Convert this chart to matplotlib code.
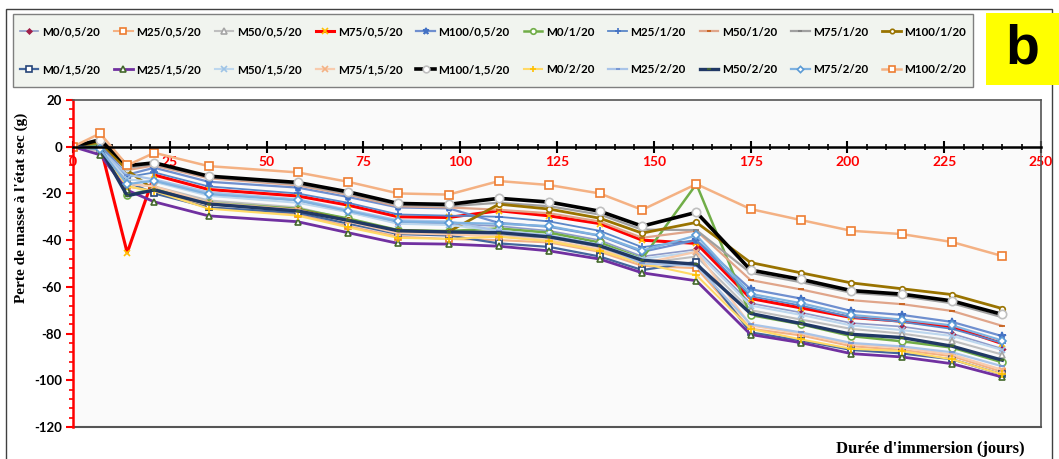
import numpy as np
import matplotlib.pyplot as plt
from matplotlib.patches import Rectangle
from matplotlib.ticker import MultipleLocator

plt.rcParams.update({
    "font.family": ["Lato", "DejaVu Sans"],
    "font.weight": "bold",
    "axes.linewidth": 1.2,
    "axes.unicode_minus": False,
})

# durée d'immersion (jours)
jours = [0, 7, 14, 21, 35, 58, 71, 84, 97, 110, 123, 136, 147, 161, 175, 188, 201, 214, 227, 240]

# perte de masse (g) par série
m0_05 = [0, -1, -14, -15, -20, -23, -28, -32.5, -33, -34, -36, -40, -47, -44, -67, -71, -75.5, -77, -80, -86.5]
m25_05 = [0, -1.5, -17, -19, -26, -29, -34, -38.5, -39.5, -40, -41, -45, -51, -52, -77.9, -80.8, -85.4, -87, -89.7, -96.4]
m50_05 = [0, -2, -16, -17, -23, -26, -31, -36, -37, -38, -39, -43, -50, -47, -70, -74, -78, -80, -83, -89]
m75_05 = [0, 0.5, -45.4, -12.1, -18.3, -21.1, -25, -30, -30.3, -27.4, -29.6, -32.9, -40, -41.4, -65, -69, -73.1, -74.7, -77.1, -84.3]
m100_05 = [0, 1, -12, -9, -15, -17.5, -21.5, -26, -26.4, -32.6, -34.3, -38.1, -45, -40, -61, -65, -70.3, -72, -75, -81.1]
m0_1 = [0, 1, -20.7, -18, -24, -26.6, -30.7, -35.7, -36.1, -35, -36.8, -41, -47.9, -16, -72.1, -76, -81.1, -83.3, -86, -92.3]
m25_1 = [0, 0, -13, -11, -17, -20, -24, -29, -29.5, -30, -32, -36, -43, -40, -64, -68, -73, -75, -78, -84]
m50_1 = [0, 2, -10, -8, -13.5, -16.5, -20.5, -25.5, -26, -27, -28.5, -32, -39, -36, -57.1, -61.1, -65.7, -67.4, -70.3, -76.7]
m75_1 = [0, 2, -9, -7.5, -13, -16, -20, -25, -25.5, -24, -25.5, -29, -35.5, -35.7, -54, -58, -62.5, -64, -67, -73]
m100_1 = [0, 2, -10, -18.6, -24.5, -27, -31.5, -36, -36.4, -24.6, -26.7, -30.6, -37, -32.4, -49.6, -54, -58.3, -60.8, -63.3, -69.3]
m0_15 = [0, -1, -15, -20, -26, -28.3, -32.9, -37.4, -38, -41.4, -42.9, -47, -52.8, -49.3, -79.5, -83, -87, -88.5, -91, -97.5]
m25_15 = [0, -3.5, -18.6, -23.6, -29.6, -32.1, -36.8, -41.4, -41.7, -42.6, -44.6, -48.1, -54, -57.4, -80.4, -83.9, -88.6, -90, -92.9, -98.6]
m50_15 = [0, -1, -14, -15, -21, -24, -28, -33, -33.5, -36, -38, -42, -48, -45, -68, -72, -76.5, -78.5, -81, -87]
m75_15 = [0, -1, -16, -17, -24, -27, -32, -37, -37.5, -38.5, -40, -44, -50, -45, -76.5, -80, -84.5, -86, -89, -95.5]
m100_15 = [0, 3, -8.1, -6.9, -12.6, -15.3, -19.3, -24.3, -24.7, -22.1, -23.7, -27.6, -34, -28.1, -52.8, -56.8, -61.6, -63.1, -66, -71.8]
m0_2 = [0, -1, -17, -19, -26.5, -29.5, -34.5, -39, -39.5, -38.5, -40.5, -44.5, -50, -55, -78, -82.5, -86.5, -87.5, -91, -97.5]
m25_2 = [0, -1, -12, -14, -19.5, -22.5, -27, -31.5, -32, -36, -38, -42, -50, -51, -76, -79.5, -84, -85.5, -88, -94]
m50_2 = [0, -0.6, -21, -18.5, -24.5, -27.5, -31.5, -36, -36.5, -36.8, -38.6, -42.4, -48.6, -50.3, -71.4, -75.7, -80.3, -81.7, -85.4, -91.4]
m75_2 = [0, -1, -16, -14.6, -20.3, -22.9, -27.5, -32, -32.5, -33, -34, -38, -44.5, -38, -63, -67, -72, -74, -76.5, -83]
m100_2 = [0, 5.7, -8, -2.6, -8.3, -11, -15, -20, -20.5, -14.7, -16.4, -20, -27, -16, -26.7, -31.4, -36, -37.4, -40.8, -46.8]

noms = ["M0/0,5/20", "M25/0,5/20", "M50/0,5/20", "M75/0,5/20", "M100/0,5/20",
        "M0/1/20", "M25/1/20", "M50/1/20", "M75/1/20", "M100/1/20",
        "M0/1,5/20", "M25/1,5/20", "M50/1,5/20", "M75/1,5/20", "M100/1,5/20",
        "M0/2/20", "M25/2/20", "M50/2/20", "M75/2/20", "M100/2/20"]
series = [m0_05, m25_05, m50_05, m75_05, m100_05, m0_1, m25_1, m50_1, m75_1, m100_1,
          m0_15, m25_15, m50_15, m75_15, m100_15, m0_2, m25_2, m50_2, m75_2, m100_2]

# (line colour, width, marker, face, edge, size)
styles = [
    ("#8E9AC8", 1.2, "D", "#A0204A", "#A0204A", 3),
    ("#F4B183", 1.5, "s", "white", "#ED7D31", 5),
    ("#BFBFBF", 1.5, "^", "white", "#A5A5A5", 5),
    ("#FF0000", 2.2, "x", "#FFC000", "#FFC000", 5),
    ("#6F8FCF", 1.6, "*", "#4472C4", "#4472C4", 6),
    ("#70AD47", 1.8, "o", "white", "#70AD47", 5),
    ("#5B87C8", 1.3, "+", "#4472C4", "#4472C4", 6),
    ("#E0A58A", 1.6, "_", "#C55A11", "#C55A11", 4),
    ("#A0A0A0", 1.6, "_", "#7F7F7F", "#7F7F7F", 4),
    ("#997300", 2.0, "o", "white", "#997300", 4),
    ("#44679E", 1.6, "s", "white", "#264478", 5),
    ("#7030A0", 2.0, "^", "white", "#43682B", 5),
    ("#BDD7EE", 1.5, "x", "#9DC3E6", "#9DC3E6", 5),
    ("#F8CBAD", 1.6, "x", "#F4B183", "#F4B183", 5),
    ("#000000", 2.6, "o", "white", "#BFBFBF", 6),
    ("#FFD966", 1.5, "+", "#FFC000", "#FFC000", 6),
    ("#A9C4E8", 1.6, "_", "#6F8FCF", "#6F8FCF", 4),
    ("#203864", 2.4, "_", "#43682B", "#43682B", 3),
    ("#7FB2E0", 1.6, "D", "white", "#5B9BD5", 4),
    ("#F4B183", 1.8, "s", "white", "#ED7D31", 6),
]

fig = plt.figure(figsize=(10.59, 4.59), dpi=100)
fig.patch.set_facecolor("white")

# cadre extérieur
fig.patches.append(Rectangle((6 / 1059, -0.1), 1046 / 1059, 1.1 - 9 / 459, transform=fig.transFigure,
                             fill=False, edgecolor="#404040", lw=1.0))
# cadre de la légende
fig.patches.append(Rectangle((13 / 1059, 1 - 87 / 459), 960 / 1059, 73 / 459, transform=fig.transFigure,
                             facecolor="#F1F4EF", edgecolor="#7F7F7F", lw=1.0))
# étiquette "b"
fig.patches.append(Rectangle((986 / 1059, 1 - 85 / 459), 73 / 1059, 72 / 459, transform=fig.transFigure,
                             facecolor="#FFFF00", edgecolor="none"))
fig.text(1022 / 1059, 1 - 50 / 459, "b", fontsize=40, fontweight="bold", ha="center", va="center",
         family=["Liberation Sans", "DejaVu Sans"])

ax = fig.add_axes([73 / 1059, 1 - 427 / 459, 968 / 1059, 327 / 459])
ax.set_facecolor("#FAFAFA")

handles = []
for vals, nom, (c, lw, mk, mfc, mec, ms) in zip(series, noms, styles):
    h, = ax.plot(jours, vals, color=c, lw=lw, marker=mk, mfc=mfc, mec=mec, ms=ms,
                 mew=1.2, label=nom)
    handles.append(h)

ax.set_xlim(0, 250)
ax.set_ylim(-120, 20)

ax.spines["bottom"].set_position(("data", 0))
ax.spines["bottom"].set_color("black")
ax.spines["bottom"].set_linewidth(1.8)
ax.spines["left"].set_color("red")
ax.spines["left"].set_linewidth(1.8)
ax.spines["top"].set_color("#555555")
ax.spines["right"].set_color("#555555")
ax.axhline(-120, color="#555555", lw=1.5, clip_on=False, zorder=0)

ax.xaxis.set_major_locator(MultipleLocator(25))
ax.xaxis.set_minor_locator(MultipleLocator(5))
ax.yaxis.set_major_locator(MultipleLocator(20))
ax.yaxis.set_minor_locator(MultipleLocator(4))
ax.tick_params(axis="x", which="major", direction="inout", length=8, width=1.5, color="black",
               labelcolor="red", labelsize=10, pad=3)
ax.tick_params(axis="x", which="minor", direction="inout", length=5, width=1.2, color="black")
ax.tick_params(axis="y", which="major", direction="out", length=5, width=1.5, color="red",
               labelcolor="black", labelsize=9.5, pad=3)
ax.tick_params(axis="y", which="minor", direction="out", length=3, width=1.2, color="red")

ax.set_ylabel("Perte de masse à l'état sec (g)", family=["Liberation Serif", "DejaVu Serif"],
              fontsize=11, fontweight="bold")
ax.yaxis.set_label_coords(-45 / 968, 0.67)
fig.text(930 / 1059, 1 - 449 / 459, "Durée d'immersion (jours)", family=["Liberation Serif", "DejaVu Serif"],
         fontsize=12, fontweight="bold", ha="center", va="center")

# légende : 2 lignes x 10 colonnes
ordre = [i + 10 * r for i in range(10) for r in range(2)]
fig.legend([handles[i] for i in ordre], [noms[i] for i in ordre], ncol=10, frameon=False,
           loc="center", bbox_to_anchor=(493 / 1059, 1 - 51 / 459), fontsize=8.4,
           handlelength=1.6, handletextpad=0.3, columnspacing=1.2, labelspacing=2.3,
           markerscale=0.8)

fig.savefig("out.png", dpi=100)
